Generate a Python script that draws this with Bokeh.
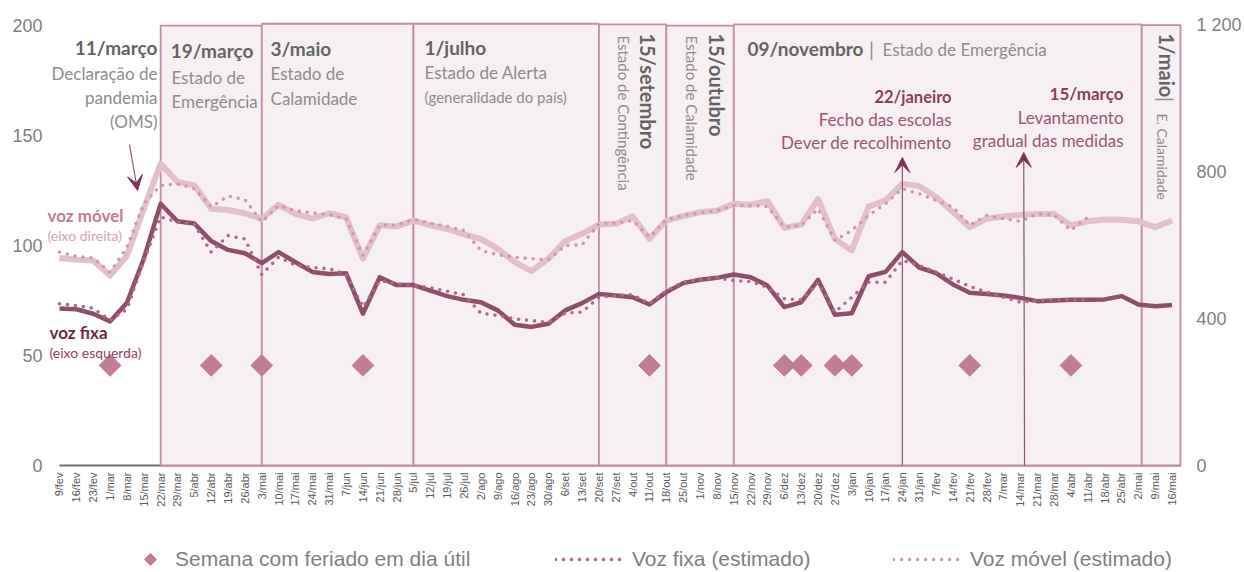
import math
from bokeh.plotting import figure
from bokeh.layouts import column
from bokeh.models import (Range1d, LinearAxis, FixedTicker, Label, Arrow, VeeHead,
                          Legend, LegendItem)
from bokeh.embed import file_html
from bokeh.resources import INLINE

# ---------------- data ----------------
semanas = ["9/fev", "16/fev", "23/fev", "1/mar", "8/mar", "15/mar", "22/mar", "29/mar",
           "5/abr", "12/abr", "19/abr", "26/abr", "3/mai", "10/mai", "17/mai", "24/mai",
           "31/mai", "7/jun", "14/jun", "21/jun", "28/jun", "5/jul", "12/jul", "19/jul",
           "26/jul", "2/ago", "9/ago", "16/ago", "23/ago", "30/ago", "6/set", "13/set",
           "20/set", "27/set", "4/out", "11/out", "18/out", "25/out", "1/nov", "8/nov",
           "15/nov", "22/nov", "29/nov", "6/dez", "13/dez", "20/dez", "27/dez", "3/jan",
           "10/jan", "17/jan", "24/jan", "31/jan", "7/fev", "14/fev", "21/fev", "28/fev",
           "7/mar", "14/mar", "21/mar", "28/mar", "4/abr", "11/abr", "18/abr", "25/abr",
           "2/mai", "9/mai", "16/mai"]

voz_fixa = [71.4, 71, 69, 65.5, 74, 94, 119, 111, 110, 102, 98, 96.5, 92, 97, 92.4, 88,
            87, 87.4, 69, 85.6, 82, 82, 79.5, 77, 75.3, 74.2, 70.5, 64, 63, 64.4, 70.5, 73.8,
            78, 77.3, 76.5, 73.2, 78.8, 82.9, 84.4, 85.3, 86.8, 85.6, 81.8, 72, 74.2, 84.4,
            68.5, 69.2, 86, 88, 97, 90, 87.4, 82.3, 78.5, 78, 77.3, 76.2, 74.7, 75, 75.3,
            75.3, 75.5, 77, 73.2, 72.4, 73]

voz_fixa_est = [73.5, 72.7, 71.5, 66, 71, 93, 113, 110.6, 109.5, 97, 104.5, 103, 86.8,
                94.7, 91, 90, 89.4, 87, 72, 84, 82.6, 81.8, 80.8, 79.2, 77.6, 69.2, 68.2,
                66.7, 65.9, 65, 69.2, 69.7, 76.5, 77.3, 77.7, 73.5, 79.5, 83.3, 84.5, 85.3,
                84, 83.6, 81, 75.8, 75.3, 83, 69.7, 76.5, 83.3, 83.3, 93.2, 91, 87.9, 84.8,
                81.4, 78.8, 76.5, 74.2, 75, 75.3, 75.3, 75.3]

voz_movel = [566, 561, 559, 518, 572, 700, 823, 773, 764, 700, 697, 688, 673, 711, 686,
             673, 688, 677, 564, 655, 652, 668, 655, 645, 630, 618, 591, 555, 530, 564, 612,
             632, 657, 659, 680, 618, 668, 680, 691, 695, 714, 711, 721, 648, 657, 727, 618,
             586, 706, 723, 768, 762, 732, 691, 650, 673, 679, 684, 686, 686, 655, 666, 671,
             670, 666, 650, 668]

voz_movel_est = [582, 570, 566, 527, 595, 714, 764, 768, 755, 705, 735, 725, 664, 709, 695,
                 689, 684, 673, 573, 655, 655, 671, 661, 652, 641, 586, 575, 568, 564, 561,
                 600, 602, 659, 661, 668, 623, 670, 682, 689, 695, 709, 709, 706, 650, 655,
                 700, 614, 641, 682, 714, 755, 741, 723, 705, 655, 682, 673, 666, 686, 684,
                 641, 677]

# holiday weeks, as positions in the week list
feriados_idx = [3, 9, 12, 18, 35, 43, 44, 46, 47, 54, 60]
nivel_feriado = 45.5

# periods (start week, end week, top on left axis)
periodo_ini = [6, 12, 21, 32, 36, 40, 64.2]
periodo_fim = [12, 21, 32, 36, 40, 64.2, 66.5]
periodo_topo = [199.9, 200.8, 200.8, 200.5, 199.9, 200.5, 200.2]

# ---------------- colours ----------------
C_FIXA = "#8E4F6B"
C_FIXA_EST = "#B0678A"
C_MOVEL = "#E2BFCC"
C_MOVEL_EST = "#D197AD"
C_FER = "#C27C98"
C_FILL = "#F7F0F3"
C_EDGE = "#C48BA3"
GREY_DARK = "#646464"
GREY_LIGHT = "#8C8C8C"
MAROON = "#8A3E5E"
MAROON_L = "#9A5577"

idx = list(range(len(semanas)))

p = figure(width=1244, height=542, output_backend="svg", toolbar_location=None,
           x_range=Range1d(-0.8898, 66.797), y_range=Range1d(-0.909, 204.545),
           min_border_left=44, min_border_right=59, min_border_top=15, min_border_bottom=75,
           background_fill_color="white", border_fill_color="white", outline_line_color=None)
p.grid.visible = False
p.extra_y_ranges = {"movel": Range1d(-0.909 * 6, 204.545 * 6)}

# axes
p.yaxis.ticker = FixedTicker(ticks=[0, 50, 100, 150, 200])
p.yaxis.axis_line_color = None
p.yaxis.major_tick_line_color = None
p.yaxis.minor_tick_line_color = None
p.yaxis.major_tick_out = 0
p.yaxis.major_label_standoff = 2
p.yaxis.major_label_text_font = "Liberation Sans"
p.yaxis.major_label_text_font_size = "18px"
p.yaxis.major_label_text_color = "#7F7F7F"

ra = LinearAxis(y_range_name="movel", ticker=FixedTicker(ticks=[0, 400, 800, 1200]),
                major_label_overrides={0: "0", 400: "400", 800: "800", 1200: "1 200"},
                axis_line_color=None, major_tick_line_color=None, minor_tick_line_color=None,
                major_tick_out=0, major_label_standoff=11, major_label_text_font="Liberation Sans",
                major_label_text_font_size="18px", major_label_text_color="#7F7F7F")
p.add_layout(ra, "right")

p.xaxis.ticker = FixedTicker(ticks=idx)
p.xaxis.major_label_overrides = {i: s for i, s in enumerate(semanas)}
p.xaxis.major_label_orientation = math.pi / 2
p.xaxis.axis_line_color = None
p.xaxis.major_tick_line_color = None
p.xaxis.minor_tick_line_color = None
p.xaxis.major_tick_out = 0
p.xaxis.major_label_standoff = 5
p.xaxis.major_label_text_font = "Liberation Sans"
p.xaxis.major_label_text_font_size = "11px"
p.xaxis.major_label_text_color = "#595959"

# base line and period boxes
p.segment(x0=[0], y0=[0], x1=[66.5], y1=[0], line_color="#6E6E6E", line_width=2)
p.quad(left=periodo_ini, right=periodo_fim, bottom=[0] * len(periodo_ini), top=periodo_topo,
       fill_color=C_FILL, line_color=C_EDGE, line_width=1.8)

# arrows
arrow_kw = dict(line_color="#8A5670", line_width=1.2)
p.add_layout(Arrow(end=VeeHead(size=15, fill_color="#7A3556", line_color="#7A3556"),
                   x_start=4.15, y_start=145.9, x_end=4.63, y_end=125.0, **arrow_kw))
p.add_layout(Arrow(end=VeeHead(size=15, fill_color="#7A3556", line_color="#7A3556"),
                   x_start=50, y_start=0, x_end=50, y_end=140, **arrow_kw))
p.add_layout(Arrow(end=VeeHead(size=15, fill_color="#7A3556", line_color="#7A3556"),
                   x_start=57.25, y_start=0, x_end=57.2, y_end=142.3, **arrow_kw))

# series
idx_est = idx[:len(voz_fixa_est)]
dot_kw = dict(line_width=3.6, line_dash="0 8", line_cap="round")
p.line(idx, voz_movel, y_range_name="movel", line_color=C_MOVEL, line_width=6, line_join="round")
p.line(idx_est, voz_movel_est, y_range_name="movel", line_color=C_MOVEL_EST, **dot_kw)
p.line(idx, voz_fixa, line_color=C_FIXA, line_width=4.5, line_join="round")
p.line(idx_est, voz_fixa_est, line_color=C_FIXA_EST, **dot_kw)
fer_kw = dict(marker="square", angle=math.pi / 4, fill_color=C_FER, line_color=C_FER)
p.scatter(feriados_idx, [nivel_feriado] * len(feriados_idx), size=15.4, **fer_kw)


def lab(text, x, y, size, color, bold=False, align="left", angle=0.0, font="Lato"):
    p.add_layout(Label(x=x, y=y, text=text, text_font=font, text_font_size=f"{size}px",
                       text_color=color, text_font_style="bold" if bold else "normal",
                       text_align=align, text_baseline="middle", angle=angle))


V = -math.pi / 2
# 11/março
lab("11/março", 5.81, 190.0, 19, GREY_DARK, True, "right")
lab("Declaração de", 5.81, 178.2, 17, GREY_LIGHT, align="right")
lab("pandemia", 5.81, 167.3, 17, GREY_LIGHT, align="right")
lab("(OMS)", 5.81, 156.4, 17, GREY_LIGHT, align="right")
# 19/março
lab("19/março", 6.6, 188.6, 19, GREY_DARK, True)
lab("Estado de", 6.64, 176.4, 17, GREY_LIGHT)
lab("Emergência", 6.64, 165.5, 17, GREY_LIGHT)
# 3/maio
lab("3/maio", 12.52, 189.5, 19, GREY_DARK, True)
lab("Estado de", 12.52, 178.2, 17, GREY_LIGHT)
lab("Calamidade", 12.52, 166.8, 17, GREY_LIGHT)
# 1/julho
lab("1/julho", 21.65, 190.0, 19, GREY_DARK, True)
lab("Estado de Alerta", 21.65, 178.6, 17, GREY_LIGHT)
lab("(generalidade do país)", 21.65, 167.7, 15, GREY_LIGHT)
# 15/setembro (vertical)
lab("15/setembro", 34.94, 196.4, 20, GREY_DARK, True, angle=V)
lab("Estado de Contingência", 33.46, 195.5, 15, GREY_LIGHT, angle=V)
# 15/outubro (vertical)
lab("15/outubro", 39.03, 196.4, 20, GREY_DARK, True, angle=V)
lab("Estado de Calamidade", 37.55, 195.5, 15, GREY_LIGHT, angle=V)
# 09/novembro
lab("09/novembro", 40.81, 189.5, 19, GREY_DARK, True)
lab("|", 48.17, 189.5, 20, GREY_LIGHT, align="center")
lab("Estado de Emergência", 48.82, 189.2, 17, GREY_LIGHT)
# 22/janeiro
lab("22/janeiro", 52.92, 167.3, 16.5, MAROON, True, "right")
lab("Fecho das escolas", 52.92, 157.3, 17, MAROON_L, align="right")
lab("Dever de recolhimento", 52.92, 146.8, 17, MAROON_L, align="right")
# 15/março
lab("15/março", 63.12, 169.1, 17, MAROON, True, "right")
lab("Levantamento", 63.12, 158.2, 17, MAROON_L, align="right")
lab("gradual das medidas", 63.12, 147.7, 17, MAROON_L, align="right")
# 1/maio (vertical)
lab("1/maio", 65.67, 196.4, 20, GREY_DARK, True, angle=V)
lab("|", 65.62, 167.5, 20, GREY_LIGHT, angle=V)
lab("E. Calamidade", 65.45, 160.0, 14, GREY_LIGHT, angle=V)
# series labels
lab("voz móvel", -0.71, 113.6, 17, "#C27A98", True)
lab("(eixo direita)", -0.71, 104.5, 14, "#D6A2B6")
lab("voz fixa", -0.59, 60.5, 17, "#6E2A45", True)
lab("(eixo esquerda)", -0.59, 51.4, 14, "#8A4466")

# ---------------- legend strip ----------------
# its frame is aligned with the chart frame (page x 44..1185); x data = page pixels
pl = figure(width=1244, height=30, output_backend="svg", toolbar_location=None,
            x_range=Range1d(44, 1185), y_range=Range1d(0, 30), min_border=0,
            x_axis_type=None, y_axis_type=None, outline_line_color=None,
            background_fill_color="white", border_fill_color="white")
pl.grid.visible = False
# visible legend diamond (Bokeh legends draw markers without rotation)
pl.scatter([150], [13], size=8.5, **fer_kw)
g_fer = pl.scatter([-50], [-50], size=8.5, marker="square", fill_alpha=0, line_alpha=0)
g_fest = pl.line([-60, -50], [-50, -50], line_color=C_FIXA_EST, **dot_kw)
g_mest = pl.line([-60, -50], [-50, -50], line_color=C_MOVEL_EST, **dot_kw)

leg_kw = dict(orientation="horizontal", padding=0, spacing=0, margin=0,
              border_line_alpha=0, background_fill_alpha=0,
              label_text_font="Liberation Sans", label_text_font_size="21px",
              label_text_color="#7F7F7F", glyph_height=26, label_height=26)
pl.add_layout(Legend(items=[LegendItem(label="Semana com feriado em dia útil", renderers=[g_fer])],
                     location=(96, 0), glyph_width=20, label_standoff=15, **leg_kw))
pl.add_layout(Legend(items=[LegendItem(label="Voz fixa (estimado)", renderers=[g_fest])],
                     location=(511, 0), glyph_width=70, label_standoff=7, **leg_kw))
pl.add_layout(Legend(items=[LegendItem(label="Voz móvel (estimado)", renderers=[g_mest])],
                     location=(849, 0), glyph_width=70, label_standoff=7, **leg_kw))

layout = column(p, pl, spacing=0)
open("out.html", "w").write(file_html(layout, INLINE))
